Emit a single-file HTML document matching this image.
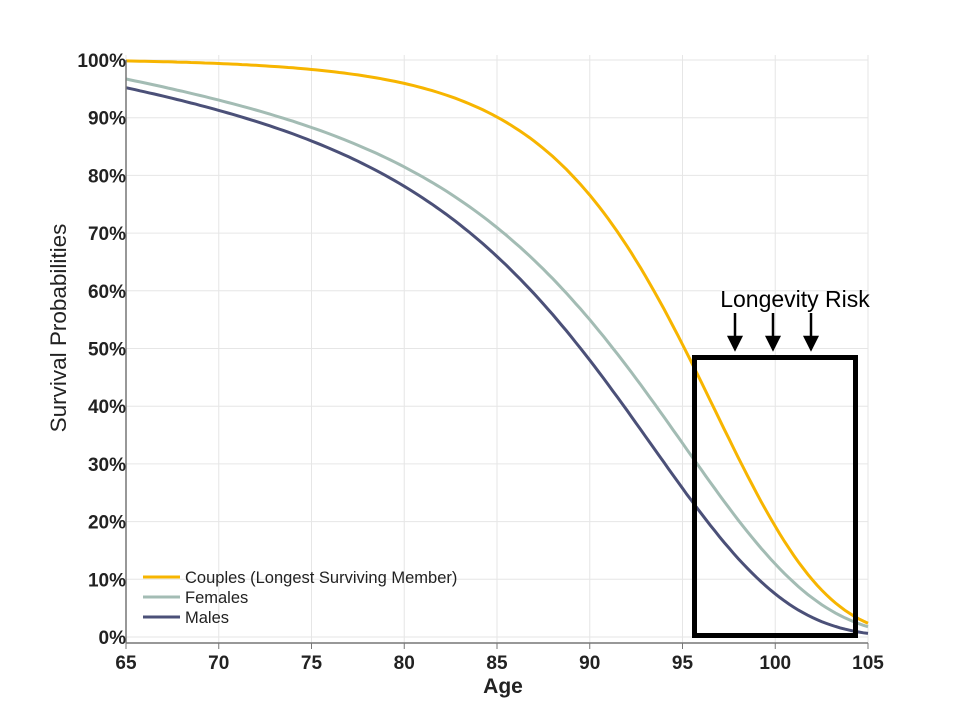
<!DOCTYPE html><html><head><style>body{margin:0;background:#fff}</style></head><body>
<svg id="s" width="959" height="723" xmlns="http://www.w3.org/2000/svg" font-family="Liberation Sans, Arial, sans-serif">
<rect width="959" height="723" fill="#fff"/>
<g id="grid" stroke="#e6e6e6" stroke-width="1"></g>
<g id="curves" fill="none" stroke-width="3"></g>
<line x1="126" y1="60" x2="126" y2="643" stroke="#777" stroke-width="1.5"/>
<line x1="126" y1="643" x2="868" y2="643" stroke="#777" stroke-width="1.5"/>
<g id="labels" font-weight="bold" font-size="19" fill="#222"></g>
<text x="503" y="693" font-size="21" font-weight="bold" text-anchor="middle" fill="#222">Age</text>
<text transform="translate(66,328) rotate(-90)" font-size="22.5" text-anchor="middle" fill="#222">Survival Probabilities</text>
<rect x="694.5" y="357.5" width="161" height="278" fill="none" stroke="#000" stroke-width="5"/>
<text x="795" y="307" font-size="23" text-anchor="middle" fill="#000">Longevity Risk</text>
<g stroke="#000" stroke-width="2.5" fill="#000">
<line x1="735" y1="313" x2="735" y2="340"/><polygon points="729,337 741,337 735,349"/>
<line x1="773" y1="313" x2="773" y2="340"/><polygon points="767,337 779,337 773,349"/>
<line x1="811" y1="313" x2="811" y2="340"/><polygon points="805,337 817,337 811,349"/>
</g>
<g font-size="16.5" fill="#222">
<line x1="143" y1="577" x2="180" y2="577" stroke="#f7b500" stroke-width="3"/><text x="185" y="583">Couples (Longest Surviving Member)</text>
<line x1="143" y1="597" x2="180" y2="597" stroke="#a3bcb4" stroke-width="3"/><text x="185" y="603">Females</text>
<line x1="143" y1="617" x2="180" y2="617" stroke="#4b5078" stroke-width="3"/><text x="185" y="623">Males</text>
</g>
</svg>
<script>
const X=a=>126+(a-65)*18.55, Y=p=>637-p*5.77;
const ns="http://www.w3.org/2000/svg";
const g=document.getElementById('grid'),L=document.getElementById('labels'),C=document.getElementById('curves');
function el(p,t,a,txt){const e=document.createElementNS(ns,t);for(const k in a)e.setAttribute(k,a[k]);if(txt)e.textContent=txt;p.appendChild(e);}
for(let a=65;a<=105;a+=5){el(g,'line',{x1:X(a),y1:55,x2:X(a),y2:643});el(L,'text',{x:X(a),y:669,'text-anchor':'middle'},a);el(L,'line',{x1:X(a),y1:643,x2:X(a),y2:649,stroke:'#777'});}
for(let p=0;p<=100;p+=10){el(g,'line',{x1:126,y1:Y(p),x2:868,y2:Y(p)});el(L,'text',{x:126,y:Y(p)+7,'text-anchor':'end'},p+'%');}
const Sm=t=>{const x=t-65;return 0.952*Math.exp(-0.005*x-0.01657*(Math.exp(0.142*x)-1));};
const Sf=t=>{const x=t-65;return 0.967*Math.exp(-0.005*x-0.013*(Math.exp(0.142*x)-1));};
const Sc=t=>1-(1-Sm(t))*(1-Sf(t));
for(const [c,f] of [['#a3bcb4',Sf],['#4b5078',Sm],['#f7b500',Sc]]){let d='';
for(let t=65;t<=105.001;t+=0.25)d+=(d?'L':'M')+X(t).toFixed(1)+','+Y(f(t)*100).toFixed(1);
el(C,'path',{d:d,stroke:c});}
</script>
</body></html>
